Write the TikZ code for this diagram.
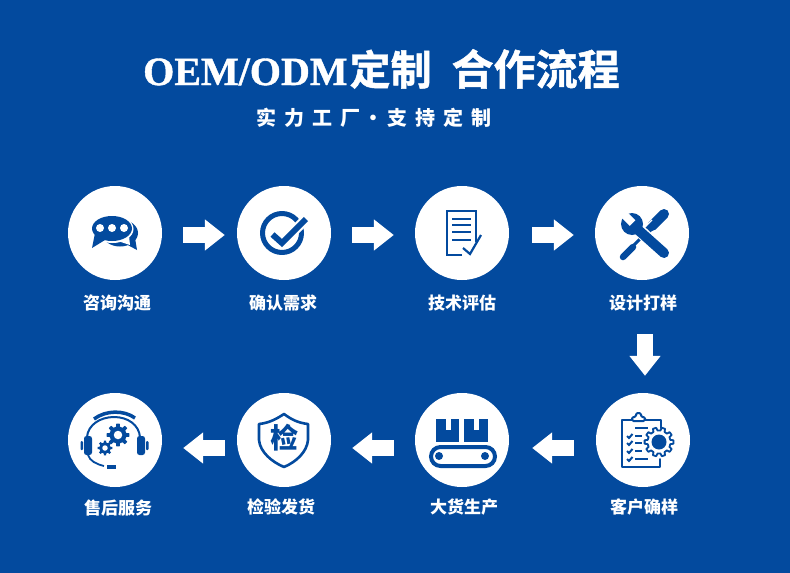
\documentclass[tikz,border=0pt]{standalone}
\usepackage{fontspec}
\usetikzlibrary{arrows.meta,calc}
\setmainfont{Liberation Serif}
\newfontfamily\cjk{Noto Sans CJK SC}
\newfontfamily\cjkheavy[FakeBold=1.2]{Noto Sans CJK SC Bold}
\newfontfamily\serifheavy[FakeBold=1.0]{Liberation Serif Bold}
\definecolor{bgblue}{HTML}{034A9E}
\tikzset{
  disc/.style={circle,fill=white,draw=none,minimum size=94pt,inner sep=0pt},
  lab/.style={text=white,anchor=base,font=\cjk\fontsize{17}{17}\selectfont\bfseries,inner sep=0pt},
  blockarrow/.style={draw=white,line width=16pt,-{Triangle[length=20pt,width=30pt,fill=white]}},
  ink/.style={draw=bgblue,line cap=round,line join=round},
}
\newcommand\gearpath[7]{% cx cy rootr outr teeth options hole
  \pgfmathsetmacro\gs{360/#5}
  \begin{scope}[shift={(#1,#2)}]
  \path[#6] ({-0.3*\gs}:#3)
    \foreach \i [evaluate=\i as \ga using {(\i-1)*\gs}] in {1,...,#5}{
      -- ({\ga-0.3*\gs}:#3)
      -- ({\ga-0.19*\gs}:#4)
      -- ({\ga+0.19*\gs}:#4)
      -- ({\ga+0.3*\gs}:#3)
    } -- cycle;
  \fill[#7] (0,0) circle ({#3*0.5});
  \end{scope}
}
\begin{document}
\begin{tikzpicture}[x=1pt,y=-1pt]
\useasboundingbox (0,0) rectangle (790,573);
\fill[bgblue] (0,0) rectangle (790,573);

% title
\node[text=white,anchor=base west,inner sep=0pt] (title) at (143,85)
  {\serifheavy\fontsize{40}{40}\selectfont OEM/ODM\hspace{2pt}{\cjkheavy\fontsize{41}{41}\selectfont 定制\hspace{20pt}\fontsize{42}{42}\selectfont 合作流程}};
\node[text=white,anchor=base,inner sep=0pt] (sub) at (373.5,125)
  {\cjk\fontsize{20}{20}\selectfont\bfseries\def\g{\hspace{8pt}}实\g 力\g 工\g 厂\hspace{3.5pt}·\hspace{3.5pt}支\g 持\g 定\g 制};

% discs
\node[disc] (c1) at (115,233) {};
\node[disc] (c2) at (284,233) {};
\node[disc] (c3) at (462,233) {};
\node[disc] (c4) at (642,233) {};
\node[disc] (c5) at (643,440) {};
\node[disc] (c6) at (462,440) {};
\node[disc] (c7) at (284,440) {};
\node[disc] (c8) at (115,440) {};

% labels
\node[lab] (l1) at (117,309) {咨询沟通};
\node[lab] (l2) at (283,309) {确认需求};
\node[lab] (l3) at (462,309) {技术评估};
\node[lab] (l4) at (643,309) {设计打样};
\node[lab] (l5) at (644,513) {客户确样};
\node[lab] (l6) at (464,513) {大货生产};
\node[lab] (l7) at (281,513) {检验发货};
\node[lab] (l8) at (118,514) {售后服务};

% arrows
\draw[blockarrow,shorten <=21pt,shorten >=12pt] ([yshift=-2pt]c1.east) -- ([yshift=-2pt]c2.west);
\draw[blockarrow,shorten <=21pt,shorten >=21pt] ([yshift=-2pt]c2.east) -- ([yshift=-2pt]c3.west);
\draw[blockarrow,shorten <=23pt,shorten >=21pt] ([yshift=-2pt]c3.east) -- ([yshift=-2pt]c4.west);
\draw[blockarrow,shorten <=54pt,shorten >=17pt] ([xshift=3pt]c4.south) -- ([xshift=2pt]c5.north);
\draw[blockarrow,shorten <=22pt,shorten >=23pt] ([yshift=-8pt]c5.west) -- ([yshift=-8pt]c6.east);
\draw[blockarrow,shorten <=21pt,shorten >=21pt] ([yshift=-8pt]c6.west) -- ([yshift=-8pt]c7.east);
\draw[blockarrow,shorten <=12pt,shorten >=21pt] ([yshift=-8pt]c7.west) -- ([yshift=-8pt]c8.east);

% icon 1: chat
\fill[bgblue] (120,233) ellipse [x radius=18,y radius=13.5];
\fill[bgblue] (124,243) -- (137,250) -- (134,232) -- cycle;
\fill[white] (112.5,229) ellipse [x radius=21,y radius=14];
\fill[white] (118,241) -- (130,245) -- (129,236) -- cycle;
\fill[bgblue] (112,228.5) ellipse [x radius=20,y radius=12.5];
\fill[bgblue] (95,233) -- (92,248) -- (105,240) -- cycle;
\foreach \dx in {100,112,124} \fill[white] (\dx,228) circle (4);

% icon 2: ring + check
\draw[ink,line width=5pt] (282,233) circle (19.5);
\draw[white,line width=10pt,line cap=butt] (284,241) -- (303,222);
\draw[bgblue,line width=6pt,line join=miter,line cap=butt] (272.5,234.5) -- (282,243) -- (306,219);

% icon 3: document
\draw[ink,line width=2.2pt,line cap=butt,line join=miter] (462,255) -- (447,255) -- (447,211) -- (476,211) -- (476,242);
\foreach \ly in {219,225,232,240} \draw[bgblue,line width=2.6pt] (452,\ly) -- (471,\ly);
\draw[ink,line width=2.2pt,line join=miter,line cap=butt] (463,248) -- (470,254) -- (481,235);

% icon 4: tools
\draw[bgblue,line width=10pt,line cap=round] (664,214) -- (652,226);
\draw[bgblue,line width=7pt,line cap=butt] (654,224) -- (645,233);
\draw[white,line width=1.3pt] (646,226) -- (652,220);
\draw[bgblue,line width=3pt,line cap=butt] (642,237) -- (631,248);
\draw[bgblue,line width=6.5pt,line cap=round] (633,247) -- (623,257);
\draw[white,line width=12.5pt,line cap=butt] (638,229) -- (666,256);
\draw[bgblue,line width=10pt,line cap=round] (636,228) -- (664,253);
\fill[bgblue] (632,224) circle (11);
\draw[white,line width=8pt,line cap=butt] (632.5,223) -- (620,210.5);

% icon 5: clipboard + gear
\draw[ink,line width=2pt,line join=round] (661,428) -- (661,420) -- (645,420) (632,420) -- (622,420) -- (622,467) -- (660,467) -- (660,459);
\draw[ink,line width=2pt,fill=white,rounded corners=1.5pt] (632,421) -- (632,417) -- (636,417) -- (636,413) -- (641,413) -- (641,417) -- (645,417) -- (645,421) -- cycle;
\draw[bgblue,line width=1.8pt] (635,428) -- (648,428);
\foreach \ly/\lx in {436/642,443/642,451/642,459/648}{
  \draw[bgblue,line width=1.8pt] (635,\ly) -- (\lx,\ly);
  \draw[bgblue,line width=2pt] (627,\ly) -- (629,\ly+2) -- (632.5,\ly-2);
}
\gearpath{659}{442}{11.5}{14.5}{10}{draw=bgblue,line width=1.8pt,fill=white,line join=round}{bgblue}
\fill[bgblue] (659,442) circle (7.5);

% icon 6: conveyor
\fill[bgblue] (436,419) rectangle (459,442);
\fill[bgblue] (464,419) rectangle (488,442);
\fill[white] (446,419) rectangle (451,430);
\fill[white] (474,419) rectangle (479,430);
\draw[bgblue,line width=4pt,rounded corners=9.5pt] (431,447) rectangle (495,466);
\fill[bgblue] (439,456) circle (4);
\fill[bgblue] (485,456) circle (4);

% icon 7: shield
\draw[ink,line width=2.6pt,line join=round] (284,414) .. controls (275,420) and (268,423) .. (259,424)
  -- (259,440) .. controls (260,452) and (272,462) .. (284,467)
  .. controls (296,462) and (307,452) .. (308,440) -- (308,424)
  .. controls (299,423) and (292,420) .. (284,414) -- cycle;
\node[text=bgblue,inner sep=0pt] (shieldchar) at (284,438) {\cjk\fontsize{28}{28}\selectfont\bfseries 检};

% icon 8: headset
\draw[bgblue,line width=2pt] (87,437) .. controls (88,425) and (100,417) .. (114,417) .. controls (128,417) and (139,425) .. (140,437);
\draw[bgblue,line width=3.5pt] (94,419) .. controls (106,410) and (124,410) .. (135,418);
\fill[bgblue,rounded corners=2.5pt] (84,436) rectangle (92,455);
\fill[bgblue,rounded corners=2.5pt] (137,436) rectangle (145,455);
\fill[bgblue,rounded corners=1pt] (80.5,441) rectangle (83,450);
\fill[bgblue,rounded corners=1pt] (146,441) rectangle (148.5,450);
\draw[bgblue,line width=1.8pt] (88,455) .. controls (90,461) and (96,464) .. (104,466);
\draw[bgblue,line width=3.5pt] (107,467) -- (116,467);
\gearpath{118}{435}{8.5}{11.5}{8}{fill=bgblue}{white}
\gearpath{105}{448}{5.5}{7.5}{8}{fill=bgblue}{white}
\end{tikzpicture}
\end{document}
